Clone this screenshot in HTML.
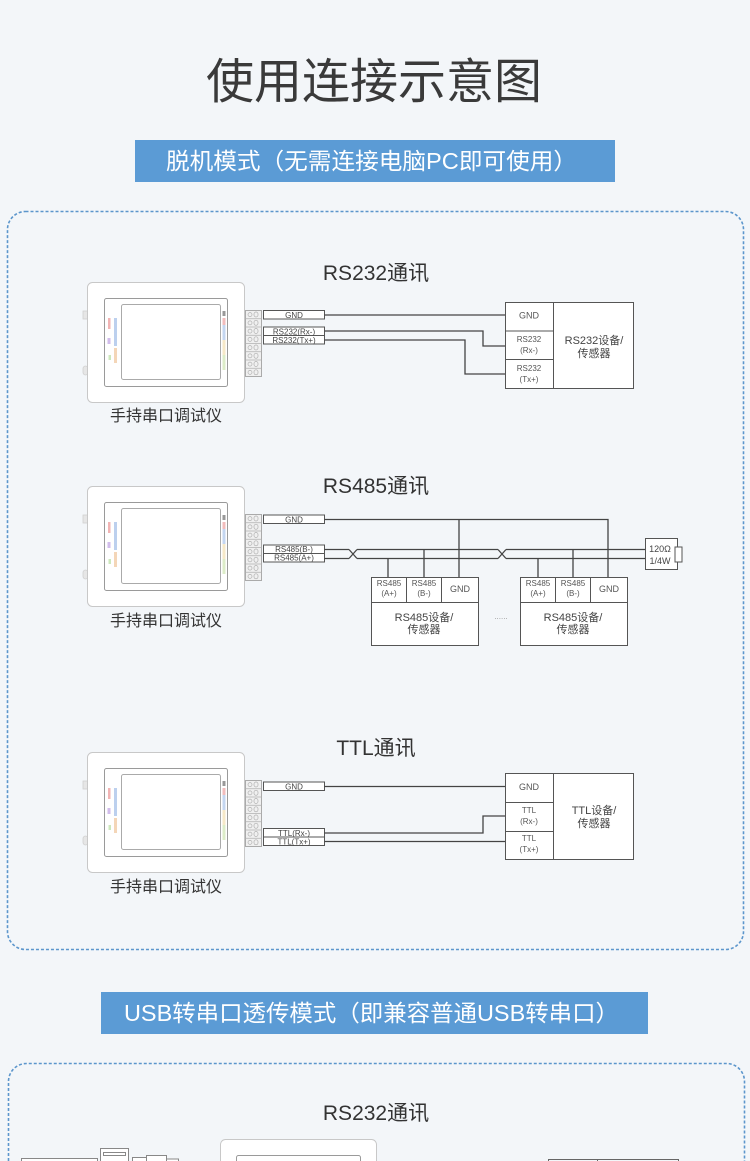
<!DOCTYPE html>
<html><head><meta charset="utf-8">
<style>
html,body{margin:0;padding:0;background:#f3f6f9;width:750px;height:1161px;overflow:hidden;}
svg{display:block;}
text{font-family:"Liberation Sans","Noto Sans CJK SC",sans-serif;}
</style></head><body>
<svg width="750" height="1161" viewBox="0 0 750 1161" xmlns="http://www.w3.org/2000/svg">
<defs>
<g id="dev">
  <rect x="83" y="311" width="5" height="8" fill="#e6e6e6" stroke="#d0d0d0" stroke-width="0.8"/>
  <rect x="83" y="366" width="5" height="9" rx="2.5" fill="#e6e6e6" stroke="#d0d0d0" stroke-width="0.8"/>
  <rect x="87.5" y="282.5" width="157" height="120" rx="5" fill="#fff" stroke="#c8c8c8"/>
  <rect x="104.5" y="298.5" width="123" height="88" rx="2" fill="#fff" stroke="#9a9a9a"/>
  <rect x="121.5" y="304.5" width="99" height="75" rx="2" fill="#fff" stroke="#aaa"/>
  <rect x="108" y="318" width="2.5" height="11" fill="#f2b4b4"/>
  <rect x="114" y="318" width="3" height="28" fill="#bcd0ee"/>
  <rect x="107.5" y="338" width="3" height="6" fill="#d2bdec"/>
  <rect x="108.5" y="355" width="2.5" height="5" fill="#cde8bc"/>
  <rect x="114" y="348" width="3" height="15" fill="#f4d6b8"/>
  <rect x="222.5" y="311" width="3" height="5" fill="#999"/>
  <rect x="222.5" y="318" width="3" height="7" fill="#f2bcbc"/>
  <rect x="222.5" y="325" width="3" height="15" fill="#c4d6f0"/>
  <rect x="222.5" y="340" width="3" height="15" fill="#f6e8c8"/>
  <rect x="222.5" y="355" width="3" height="15" fill="#dcecc8"/>
  <rect x="245.5" y="310.5" width="16" height="66" fill="#f0f0f0" stroke="#aaa"/>
  <g stroke="#b0b0b0" stroke-width="0.7" fill="none">
    <path d="M245.5 318.75H261.5M245.5 327H261.5M245.5 335.25H261.5M245.5 343.5H261.5M245.5 351.75H261.5M245.5 360H261.5M245.5 368.25H261.5"/>
    <circle cx="250" cy="314.6" r="2"/><circle cx="250" cy="322.9" r="2"/><circle cx="250" cy="331.1" r="2"/><circle cx="250" cy="339.4" r="2"/>
    <circle cx="250" cy="347.6" r="2"/><circle cx="250" cy="355.9" r="2"/><circle cx="250" cy="364.1" r="2"/><circle cx="250" cy="372.4" r="2"/>
    <rect x="254" y="312" width="4" height="5" rx="2"/><rect x="254" y="320.3" width="4" height="5" rx="2"/><rect x="254" y="328.5" width="4" height="5" rx="2"/><rect x="254" y="336.8" width="4" height="5" rx="2"/>
    <rect x="254" y="345" width="4" height="5" rx="2"/><rect x="254" y="353.3" width="4" height="5" rx="2"/><rect x="254" y="361.5" width="4" height="5" rx="2"/><rect x="254" y="369.8" width="4" height="5" rx="2"/>
  </g>
</g>
</defs>

<rect width="750" height="1161" fill="#f3f6f9"/>

<!-- Title -->
<text x="374" y="98" font-size="48" fill="#3a3a3a" text-anchor="middle">使用连接示意图</text>

<!-- Banner 1 -->
<rect x="135" y="140" width="480" height="42" fill="#5b9bd5"/>
<text x="166" y="169" font-size="23" fill="#fff" textLength="411" lengthAdjust="spacingAndGlyphs">脱机模式（无需连接电脑PC即可使用）</text>

<!-- Dashed box 1 -->
<rect x="7.5" y="211.5" width="736" height="738" rx="18" fill="none" stroke="#5c96cc" stroke-width="1.6" stroke-dasharray="3 2"/>

<!-- Section titles -->
<g font-size="21" fill="#333" text-anchor="middle">
<text x="376" y="280">RS232通讯</text>
<text x="376" y="493">RS485通讯</text>
<text x="376" y="755">TTL通讯</text>
</g>

<!-- Devices -->
<use href="#dev"/>
<use href="#dev" y="204"/>
<use href="#dev" y="470"/>
<g font-size="16" fill="#333" text-anchor="middle">
<text x="166" y="421">手持串口调试仪</text>
<text x="166" y="626">手持串口调试仪</text>
<text x="166" y="892">手持串口调试仪</text>
</g>

<!-- ===== Section 1 RS232 ===== -->
<g stroke="#555" stroke-width="1" fill="#fff">
<rect x="263.5" y="310.5" width="61" height="8.5"/>
<rect x="263.5" y="327" width="61" height="8.5"/>
<rect x="263.5" y="335.5" width="61" height="8.5"/>
</g>
<g font-size="8" fill="#444" text-anchor="middle">
<text x="294" y="317.8">GND</text>
<text x="294" y="334.3">RS232(Rx-)</text>
<text x="294" y="342.8">RS232(Tx+)</text>
</g>
<path d="M324.5 315H505.5M324.5 331H483V346H505.5M324.5 340H465V374H505.5" stroke="#444" fill="none" stroke-width="1.3"/>
<rect x="505.5" y="302.5" width="128" height="86" fill="#fff" stroke="#555"/>
<path d="M553.5 302.5V388.5M505.5 331H553.5M505.5 359.5H553.5" stroke="#555" fill="none"/>
<g font-size="8" fill="#555" text-anchor="middle">
<text x="529" y="318.5" font-size="9">GND</text>
<text x="529" y="342">RS232</text>
<text x="529" y="353">(Rx-)</text>
<text x="529" y="371">RS232</text>
<text x="529" y="382">(Tx+)</text>
</g>
<g font-size="11" fill="#444" text-anchor="middle">
<text x="594" y="344">RS232设备/</text>
<text x="594" y="357">传感器</text>
</g>

<!-- ===== Section 2 RS485 ===== -->
<g stroke="#555" stroke-width="1" fill="#fff">
<rect x="263.5" y="515" width="61" height="8.5"/>
<rect x="263.5" y="545" width="61" height="8.5"/>
<rect x="263.5" y="553.5" width="61" height="8.5"/>
</g>
<g font-size="8" fill="#444" text-anchor="middle">
<text x="294" y="522.3">GND</text>
<text x="294" y="551.8">RS485(B-)</text>
<text x="294" y="560.3">RS485(A+)</text>
</g>
<g stroke="#444" fill="none" stroke-width="1.3">
<path d="M324.5 519.5H608V577.5M459 519.5V577.5"/>
<path d="M324.5 549.5H349M324.5 558.5H349M349 549.5L357 558.5M349 558.5L357 549.5"/>
<path d="M357 549.5H498M357 558.5H498M498 549.5L506 558.5M498 558.5L506 549.5"/>
<path d="M506 549.5H645.5M506 558.5H645.5"/>
<path d="M388 558.5V577.5M424 549.5V577.5M538 558.5V577.5M573 549.5V577.5"/>
</g>
<rect x="645.5" y="538.5" width="32" height="31" fill="#fff" stroke="#555"/>
<rect x="675" y="547" width="7" height="15" fill="#fff" stroke="#555"/>
<g font-size="9" fill="#444" text-anchor="middle">
<text x="660" y="552">120Ω</text>
<text x="660" y="564">1/4W</text>
</g>
<g fill="#fff" stroke="#555">
<rect x="371.5" y="577.5" width="107" height="68"/>
<rect x="520.5" y="577.5" width="107" height="68"/>
</g>
<path d="M406.5 577.5V602.5M441.5 577.5V602.5M371.5 602.5H478.5M555.5 577.5V602.5M590.5 577.5V602.5M520.5 602.5H627.5" stroke="#555" fill="none"/>
<g font-size="8" fill="#555" text-anchor="middle">
<text x="389" y="586">RS485</text>
<text x="389" y="596">(A+)</text>
<text x="424" y="586">RS485</text>
<text x="424" y="596">(B-)</text>
<text x="460" y="592" font-size="9">GND</text>
<text x="538" y="586">RS485</text>
<text x="538" y="596">(A+)</text>
<text x="573" y="586">RS485</text>
<text x="573" y="596">(B-)</text>
<text x="609" y="592" font-size="9">GND</text>
</g>
<g font-size="11" fill="#444" text-anchor="middle">
<text x="424" y="621">RS485设备/</text>
<text x="424" y="633">传感器</text>
<text x="573" y="621">RS485设备/</text>
<text x="573" y="633">传感器</text>
</g>
<text x="501" y="619" font-size="8" fill="#999" text-anchor="middle">......</text>

<!-- ===== Section 3 TTL ===== -->
<g stroke="#555" stroke-width="1" fill="#fff">
<rect x="263.5" y="782" width="61" height="8.5"/>
<rect x="263.5" y="828.5" width="61" height="8.5"/>
<rect x="263.5" y="837" width="61" height="8.5"/>
</g>
<g font-size="8" fill="#444" text-anchor="middle">
<text x="294" y="789.3">GND</text>
<text x="294" y="835.8">TTL(Rx-)</text>
<text x="294" y="844.3">TTL(Tx+)</text>
</g>
<path d="M324.5 786.5H505.5M324.5 833H483V816H505.5M324.5 841.5H505.5" stroke="#444" fill="none" stroke-width="1.3"/>
<rect x="505.5" y="773.5" width="128" height="86" fill="#fff" stroke="#555"/>
<path d="M553.5 773.5V859.5M505.5 802.5H553.5M505.5 831.5H553.5" stroke="#555" fill="none"/>
<g font-size="8" fill="#555" text-anchor="middle">
<text x="529" y="790" font-size="9">GND</text>
<text x="529" y="813">TTL</text>
<text x="529" y="824">(Rx-)</text>
<text x="529" y="841">TTL</text>
<text x="529" y="852">(Tx+)</text>
</g>
<g font-size="11" fill="#444" text-anchor="middle">
<text x="594" y="814">TTL设备/</text>
<text x="594" y="827">传感器</text>
</g>

<!-- Banner 2 -->
<rect x="101" y="992" width="547" height="42" fill="#5b9bd5"/>
<text x="124" y="1021" font-size="23" fill="#fff" textLength="495" lengthAdjust="spacingAndGlyphs">USB转串口透传模式（即兼容普通USB转串口）</text>

<!-- Dashed box 2 (open at bottom) -->
<path d="M8.5 1161V1081.5A18 18 0 0 1 26.5 1063.5H726.5A18 18 0 0 1 744.5 1081.5V1161" fill="none" stroke="#5c96cc" stroke-width="1.6" stroke-dasharray="3 2"/>

<text x="376" y="1120" font-size="21" fill="#333" text-anchor="middle">RS232通讯</text>

<!-- bottom partial elements (clipped at frame bottom) -->
<path d="M220.5 1161V1144.5A5 5 0 0 1 225.5 1139.5H371.5A5 5 0 0 1 376.5 1144.5V1161Z" fill="#fff" stroke="none"/>
<path d="M220.5 1161V1144.5A5 5 0 0 1 225.5 1139.5H371.5A5 5 0 0 1 376.5 1144.5V1161" fill="none" stroke="#c8c8c8"/>
<path d="M236.5 1161V1157.5A2 2 0 0 1 238.5 1155.5H358.5A2 2 0 0 1 360.5 1157.5V1161" fill="none" stroke="#9a9a9a"/>
<g fill="#fff" stroke="#888">
<path d="M21.5 1161V1158.5H97.5V1161"/>
<path d="M100.5 1161V1148.5H128.5V1161"/>
<rect x="103.5" y="1152.5" width="22" height="3"/>
<path d="M132.5 1161V1157.5H146.5V1161"/>
<path d="M146.5 1161V1155.5H166.5V1161"/>
<path d="M166.5 1161V1159H178.5V1161"/>
</g>
<path d="M548.5 1161V1159.5H678.5V1161M597.5 1159.5V1161" fill="none" stroke="#666"/>
</svg>
</body></html>
